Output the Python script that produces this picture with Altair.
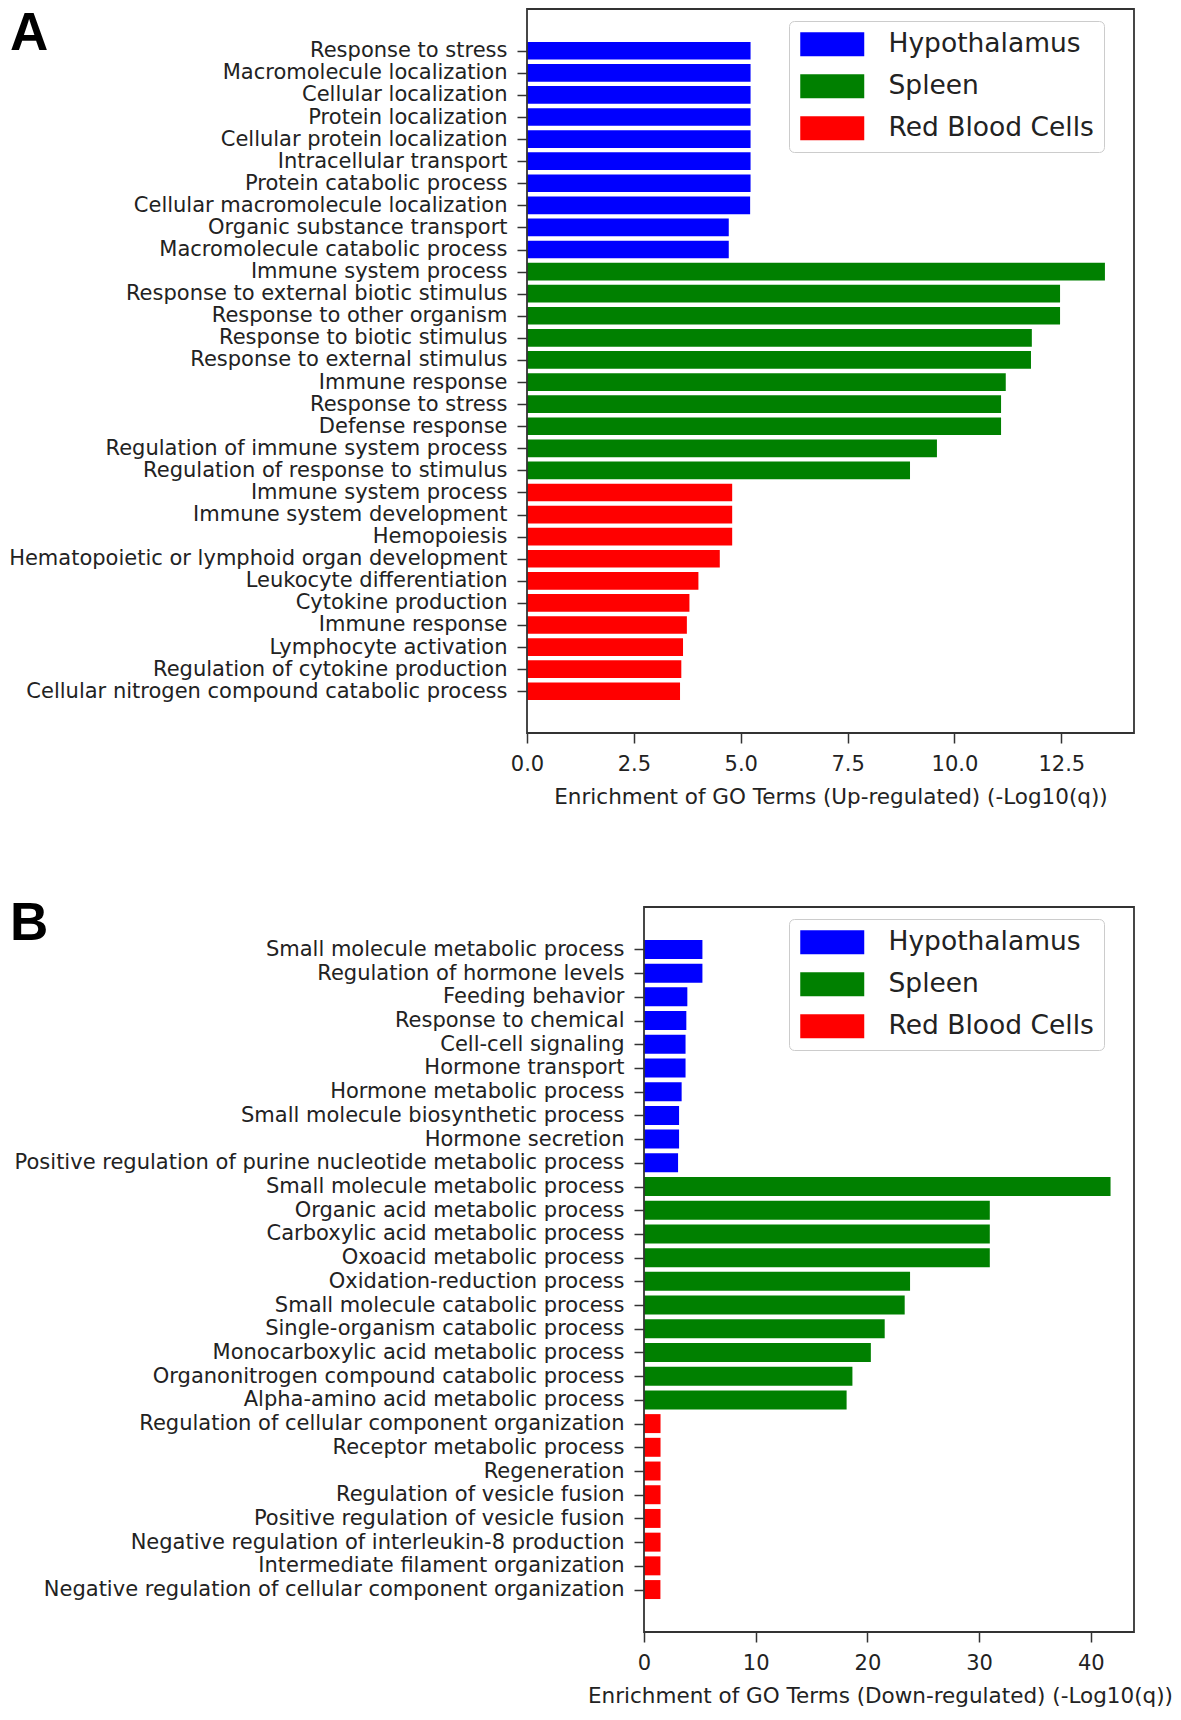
import json
import altair as alt
import pandas as pd

# ---------------- Panel A (up-regulated) ----------------
A_HYPO_TERMS = [
    "Response to stress", "Macromolecule localization", "Cellular localization",
    "Protein localization", "Cellular protein localization", "Intracellular transport",
    "Protein catabolic process", "Cellular macromolecule localization",
    "Organic substance transport", "Macromolecule catabolic process",
]
A_HYPO_VALUES = [5.23, 5.23, 5.23, 5.23, 5.23, 5.23, 5.23, 5.22, 4.72, 4.72]

A_SPLEEN_TERMS = [
    "Immune system process", "Response to external biotic stimulus",
    "Response to other organism", "Response to biotic stimulus",
    "Response to external stimulus", "Immune response", "Response to stress",
    "Defense response", "Regulation of immune system process",
    "Regulation of response to stimulus",
]
A_SPLEEN_VALUES = [13.52, 12.47, 12.47, 11.81, 11.79, 11.20, 11.09, 11.09, 9.59, 8.96]

A_RBC_TERMS = [
    "Immune system process", "Immune system development", "Hemopoiesis",
    "Hematopoietic or lymphoid organ development", "Leukocyte differentiation",
    "Cytokine production", "Immune response", "Lymphocyte activation",
    "Regulation of cytokine production", "Cellular nitrogen compound catabolic process",
]
A_RBC_VALUES = [4.80, 4.80, 4.80, 4.51, 4.01, 3.80, 3.74, 3.65, 3.61, 3.58]

A_TICKS = [0.0, 2.5, 5.0, 7.5, 10.0, 12.5]
A_XMAX = 14.2
A_TITLE = "Enrichment of GO Terms (Up-regulated) (-Log10(q))"

# ---------------- Panel B (down-regulated) ----------------
B_HYPO_TERMS = [
    "Small molecule metabolic process", "Regulation of hormone levels",
    "Feeding behavior", "Response to chemical", "Cell-cell signaling",
    "Hormone transport", "Hormone metabolic process",
    "Small molecule biosynthetic process", "Hormone secretion",
    "Positive regulation of purine nucleotide metabolic process",
]
B_HYPO_VALUES = [5.23, 5.23, 3.88, 3.79, 3.72, 3.72, 3.37, 3.14, 3.14, 3.05]

B_SPLEEN_TERMS = [
    "Small molecule metabolic process", "Organic acid metabolic process",
    "Carboxylic acid metabolic process", "Oxoacid metabolic process",
    "Oxidation-reduction process", "Small molecule catabolic process",
    "Single-organism catabolic process", "Monocarboxylic acid metabolic process",
    "Organonitrogen compound catabolic process", "Alpha-amino acid metabolic process",
]
B_SPLEEN_VALUES = [41.77, 30.96, 30.96, 30.96, 23.82, 23.34, 21.55, 20.31, 18.66, 18.14]

B_RBC_TERMS = [
    "Regulation of cellular component organization", "Receptor metabolic process",
    "Regeneration", "Regulation of vesicle fusion", "Positive regulation of vesicle fusion",
    "Negative regulation of interleukin-8 production", "Intermediate filament organization",
    "Negative regulation of cellular component organization",
]
B_RBC_VALUES = [1.48, 1.48, 1.48, 1.48, 1.48, 1.48, 1.47, 1.47]

B_TICKS = [0, 10, 20, 30, 40]
B_XMAX = 43.87
B_TITLE = "Enrichment of GO Terms (Down-regulated) (-Log10(q))"

TISSUES = ["Hypothalamus", "Spleen", "Red Blood Cells"]
TISSUE_COLORS = ["#0000ff", "#008000", "#ff0000"]

FONT = "DejaVu Sans"
TEXT_COLOR = "#222222"
FRAME_COLOR = "#333333"
BAR_HALF = 0.4      # bar height 0.8 of a row
Y_MARGIN = 0.05     # 5 % margin on the category axis
GROUP_WIDTH = 607   # both panels share the same right edge

# wide legend swatch (64 x 24 px): unit square scaled by sqrt(size)/2 = 12
SWATCH_PATH = "M-1,-1L4.333,-1L4.333,1L-1,1Z"
SWATCH_SIZE = 576


def build_frame(groups):
    rows = []
    i = 0
    for tissue, terms, values in groups:
        for term, value in zip(terms, values):
            rows.append({"idx": i, "term": term, "value": value, "tissue": tissue})
            i += 1
    return pd.DataFrame(rows)


df_a = build_frame([
    ("Hypothalamus", A_HYPO_TERMS, A_HYPO_VALUES),
    ("Spleen", A_SPLEEN_TERMS, A_SPLEEN_VALUES),
    ("Red Blood Cells", A_RBC_TERMS, A_RBC_VALUES),
])
df_b = build_frame([
    ("Hypothalamus", B_HYPO_TERMS, B_HYPO_VALUES),
    ("Spleen", B_SPLEEN_TERMS, B_SPLEEN_VALUES),
    ("Red Blood Cells", B_RBC_TERMS, B_RBC_VALUES),
])


def panel(df, letter, letter_x, letter_y, left, height, xmax, ticks, fmt,
          xtitle, legend_x, legend_y, title_shift=0):
    """left = inset (px) of the plot frame inside the shared-width group."""
    n = len(df)
    span = (n - 1) + 2 * BAR_HALF
    lo = -BAR_HALF - Y_MARGIN * span
    hi = (n - 1) + BAR_HALF + Y_MARGIN * span
    label_expr = json.dumps(list(df["term"])) + "[datum.value]"
    plot_w = GROUP_WIDTH - left

    bars = alt.Chart(df).transform_calculate(
        y0=f"datum.idx - {BAR_HALF}", y1=f"datum.idx + {BAR_HALF}"
    ).mark_bar().encode(
        x=alt.X("value:Q",
                scale=alt.Scale(domain=[0, xmax], nice=False, zero=True,
                                range=[left, GROUP_WIDTH]),
                axis=alt.Axis(values=ticks, format=fmt, title=xtitle,
                              labelFlush=False,
                              titleX=left + plot_w / 2 + title_shift)),
        x2=alt.datum(0),
        y=alt.Y("y0:Q",
                scale=alt.Scale(domain=[lo, hi], nice=False, zero=False, reverse=True),
                axis=alt.Axis(title=None, labelLimit=2000, offset=-left,
                              values=list(range(n)), labelExpr=label_expr)),
        y2="y1:Q",
        color=alt.Color("tissue:N",
                        scale=alt.Scale(domain=TISSUES, range=TISSUE_COLORS),
                        legend=alt.Legend(
                            title=None, orient="none",
                            legendX=legend_x, legendY=legend_y,
                            symbolType=SWATCH_PATH,
                            symbolSize=SWATCH_SIZE, symbolStrokeWidth=0,
                            symbolOpacity=1,
                            labelFont=FONT, labelFontSize=26.5,
                            labelColor=TEXT_COLOR, labelOffset=63,
                            labelLimit=1000,
                            padding=10, rowPadding=15,
                            strokeColor="#cccccc", fillColor="white",
                            cornerRadius=5)),
    )
    # plot frame (axes box)
    frame = alt.Chart(pd.DataFrame({"f": [0]})).mark_rect(
        fillOpacity=0, stroke=FRAME_COLOR, strokeWidth=1.8
    ).encode(x=alt.value(left), x2=alt.value(GROUP_WIDTH),
             y=alt.value(0), y2=alt.value(height))
    tag = alt.Chart(pd.DataFrame({"t": [letter]})).mark_text(
        font="Liberation Sans", fontWeight="bold", fontSize=53,
        align="left", baseline="alphabetic", color="black",
    ).encode(text="t:N", x=alt.value(letter_x), y=alt.value(letter_y))
    return alt.layer(bars, frame, tag).properties(width=GROUP_WIDTH, height=height)


chart_a = panel(df_a, "A", -517, 41, 0, 724, A_XMAX, A_TICKS, ".1f",
                A_TITLE, 262, 12)
chart_b = panel(df_b, "B", -517, 33, 117, 725, B_XMAX, B_TICKS, "d",
                B_TITLE, 262, 12, title_shift=-9)

chart = alt.vconcat(chart_a, chart_b, spacing=90).resolve_scale(
    x="independent", y="independent", color="independent"
).resolve_axis(x="independent", y="independent").resolve_legend(
    color="independent"
).properties(
    padding={"left": 0, "top": 0, "right": 0, "bottom": 0}
).configure_view(
    stroke=None
).configure_axis(
    grid=False, domain=False,
    labelFont=FONT, labelFontSize=21, labelColor=TEXT_COLOR,
    titleFont=FONT, titleFontSize=21.5, titleColor=TEXT_COLOR,
    titleFontWeight="normal",
    tickColor=FRAME_COLOR, tickWidth=1.5, tickSize=10,
).configure_axisX(
    labelPadding=10, titlePadding=12,
).configure_axisY(
    labelPadding=10,
)

chart.save("out.html", embed_options={"renderer": "svg", "actions": False})
